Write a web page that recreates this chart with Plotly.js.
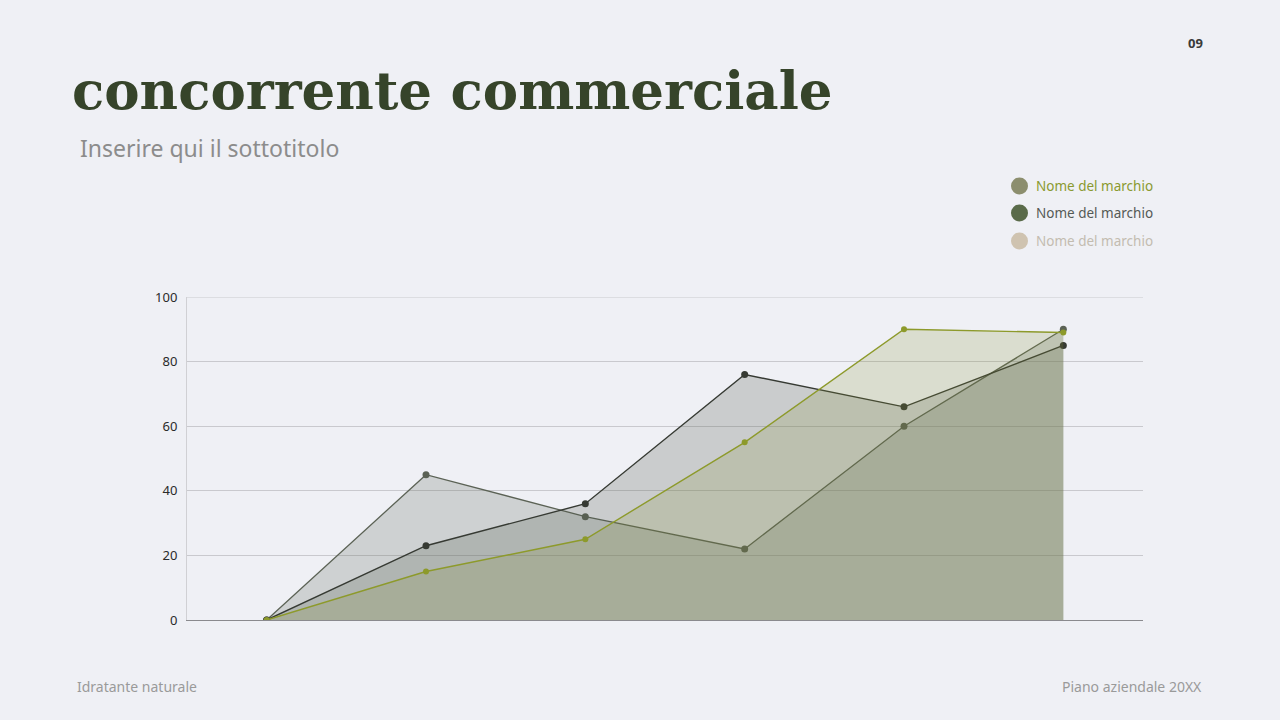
<!DOCTYPE html>
<html>
<head>
<meta charset="utf-8">
<script src="https://cdn.plot.ly/plotly-3.0.1.min.js"></script>
<style>
  html, body { margin: 0; padding: 0; background: #eff0f5; }
  #chart { width: 1280px; height: 720px; }
</style>
</head>
<body>
<div id="chart"></div>
<script>
// data
const categories = ["Cat 1", "Cat 2", "Cat 3", "Cat 4", "Cat 5", "Cat 6"];
const seriesNames = ["Nome del marchio", "Nome del marchio", "Nome del marchio"];
const brandA = [0, 15, 25, 55, 90, 89];   // olive
const brandB = [0, 23, 36, 76, 66, 85];   // dark
const brandC = [0, 45, 32, 22, 60, 90];   // grey green
const yTicks = [0, 20, 40, 60, 80, 100];

// plot box in pixels
const W = 1280, H = 720;
const L = 187, R = 1143, T = 297, B = 620;
const px = x => (x - L) / (R - L);
const py = y => (B - y) / (B - T);

function series(y, line, fill, width, size) {
  return {
    x: categories, y: y, type: 'scatter', mode: 'lines+markers',
    fill: 'tozeroy', fillcolor: fill,
    line: { color: line, width: width },
    marker: { color: line, size: size },
    showlegend: false, hoverinfo: 'y'
  };
}

const traces = [
  series(brandC, '#5b6255', 'rgba(90,100,85,0.22)', 1.3, 7),
  series(brandB, '#363a33', 'rgba(85,92,80,0.24)', 1.4, 7),
  series(brandA, '#8d9a2b', 'rgba(135,145,55,0.2)', 1.4, 6)
];

const legendItems = [
  { dot: '#8c8e6e', text: '#8a9a30', y: 186 },
  { dot: '#5a6b4a', text: '#555a55', y: 213 },
  { dot: '#cfc3b0', text: '#c3bcb0', y: 241 }
];

const annotations = [
  { text: 'Inserire qui il sottotitolo', x: px(78), y: py(148), xanchor: 'left', yanchor: 'middle',
    font: { family: 'Noto Sans', size: 23, color: '#8c8c8c' } },
  { text: '<b>09</b>', x: px(1205), y: py(43), xanchor: 'right', yanchor: 'middle',
    font: { family: 'Noto Sans', size: 13, color: '#3a3a3a' } },
  { text: 'Idratante naturale', x: px(75), y: py(686), xanchor: 'left', yanchor: 'middle',
    font: { family: 'Noto Sans', size: 14, color: '#9a9a9a' } },
  { text: 'Piano aziendale 20XX', x: px(1204), y: py(686), xanchor: 'right', yanchor: 'middle',
    font: { family: 'Noto Sans', size: 14, color: '#9a9a9a' } }
];
const shapes = [
  // top gridline at 100 (sits on the range edge)
  { type: 'line', xref: 'paper', yref: 'y', x0: 0, x1: 1, y0: 100, y1: 100,
    line: { color: '#c9c9ce', width: 1 }, layer: 'below' }
];
legendItems.forEach((it, i) => {
  shapes.push({ type: 'circle', xref: 'paper', yref: 'paper',
    x0: px(1011), x1: px(1028), y0: py(it.y - 8.5), y1: py(it.y + 8.5),
    fillcolor: it.dot, line: { width: 0 } });
  annotations.push({ text: seriesNames[i], x: px(1034), y: py(it.y), xanchor: 'left', yanchor: 'middle',
    font: { family: 'Noto Sans', size: 13.5, color: it.text } });
});
annotations.forEach(a => { a.xref = 'paper'; a.yref = 'paper'; a.showarrow = false; });

const layout = {
  width: W, height: H,
  paper_bgcolor: '#eff0f5', plot_bgcolor: 'rgba(0,0,0,0)',
  margin: { l: L, r: W - R, t: T, b: H - B, pad: 0 },
  title: {
    text: '<b>concorrente commerciale</b>',
    x: 72 / W, xanchor: 'left', xref: 'container',
    y: 1 - 90 / H, yanchor: 'middle', yref: 'container',
    font: { family: 'DejaVu Serif', size: 53, color: '#36442a' }
  },
  xaxis: {
    range: [-0.5, 5.5], showticklabels: false, showgrid: false,
    zeroline: false, showline: true, linecolor: '#8a8a8e', linewidth: 1.2,
    ticks: '', fixedrange: true
  },
  yaxis: {
    range: [0, 100], tickvals: yTicks, ticktext: yTicks.map(String),
    showgrid: true, gridcolor: '#c9c9ce', gridwidth: 1,
    zeroline: false, showline: true, linecolor: '#d0d0d4', linewidth: 1,
    ticks: '', ticklabelstandoff: 6,
    tickfont: { family: 'Noto Sans', size: 13, color: '#2a2a2a' }
  },
  annotations: annotations,
  shapes: shapes
};

Plotly.newPlot('chart', traces, layout, { displayModeBar: false, staticPlot: true });
</script>
</body>
</html>
